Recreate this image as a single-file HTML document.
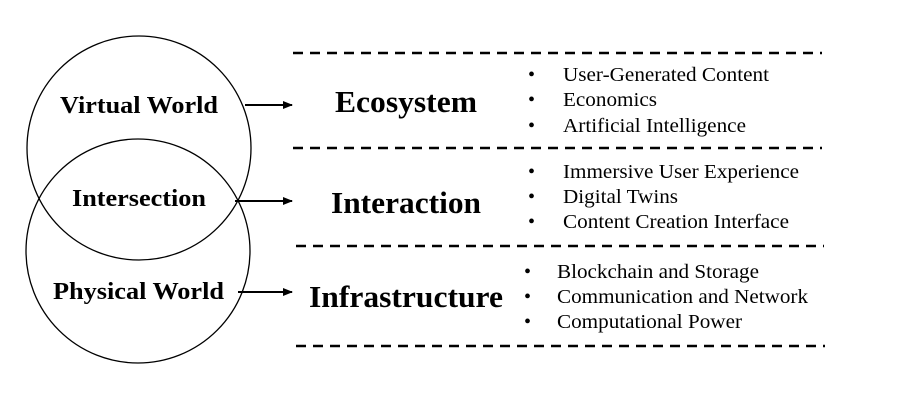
<!DOCTYPE html>
<html><head><style>
body{margin:0;background:#fff;}
svg{display:block;font-family:"Liberation Serif",serif;}
</style></head><body>
<svg width="902" height="404" xmlns="http://www.w3.org/2000/svg">
<defs><marker id="a" markerWidth="10" markerHeight="10" refX="9" refY="5" orient="auto" markerUnits="userSpaceOnUse"><path d="M0,1 L10,5 L0,9z" fill="#000"/></marker></defs>
<circle cx="139" cy="148" r="112" fill="none" stroke="#000" stroke-width="1.3"/>
<circle cx="138" cy="251" r="112" fill="none" stroke="#000" stroke-width="1.3"/>
<g font-weight="bold" font-size="24">
<text x="60" y="113" textLength="158" lengthAdjust="spacingAndGlyphs">Virtual World</text>
<text x="72" y="206" textLength="134" lengthAdjust="spacingAndGlyphs">Intersection</text>
<text x="53" y="299" textLength="171" lengthAdjust="spacingAndGlyphs">Physical World</text>
</g>
<g stroke="#000" stroke-width="2" marker-end="url(#a)">
<line x1="245" y1="105" x2="292" y2="105"/>
<line x1="235" y1="201" x2="292" y2="201"/>
<line x1="238" y1="292" x2="292" y2="292"/>
</g>
<g stroke="#000" stroke-width="2.5" stroke-dasharray="10,7">
<line x1="293" y1="53" x2="822" y2="53"/>
<line x1="293" y1="148" x2="822" y2="148"/>
<line x1="296" y1="246" x2="824" y2="246"/>
<line x1="296" y1="346" x2="825" y2="346"/>
</g>
<g font-weight="bold" font-size="31">
<text x="335" y="112" textLength="142" lengthAdjust="spacingAndGlyphs">Ecosystem</text>
<text x="331" y="213" textLength="150" lengthAdjust="spacingAndGlyphs">Interaction</text>
<text x="309" y="307" textLength="194" lengthAdjust="spacingAndGlyphs">Infrastructure</text>
</g>
<g font-size="20">
<text x="528" y="81">•</text><text x="563" y="81" textLength="206" lengthAdjust="spacingAndGlyphs">User-Generated Content</text>
<text x="528" y="106">•</text><text x="563" y="106" textLength="94" lengthAdjust="spacingAndGlyphs">Economics</text>
<text x="528" y="132">•</text><text x="563" y="132" textLength="183" lengthAdjust="spacingAndGlyphs">Artificial Intelligence</text>
<text x="528" y="178">•</text><text x="563" y="178" textLength="236" lengthAdjust="spacingAndGlyphs">Immersive User Experience</text>
<text x="528" y="203">•</text><text x="563" y="203" textLength="115" lengthAdjust="spacingAndGlyphs">Digital Twins</text>
<text x="528" y="228">•</text><text x="563" y="228" textLength="226" lengthAdjust="spacingAndGlyphs">Content Creation Interface</text>
<text x="524" y="278">•</text><text x="557" y="278" textLength="202" lengthAdjust="spacingAndGlyphs">Blockchain and Storage</text>
<text x="524" y="303">•</text><text x="557" y="303" textLength="251" lengthAdjust="spacingAndGlyphs">Communication and Network</text>
<text x="524" y="328">•</text><text x="557" y="328" textLength="185" lengthAdjust="spacingAndGlyphs">Computational Power</text>
</g>
</svg>
</body></html>
